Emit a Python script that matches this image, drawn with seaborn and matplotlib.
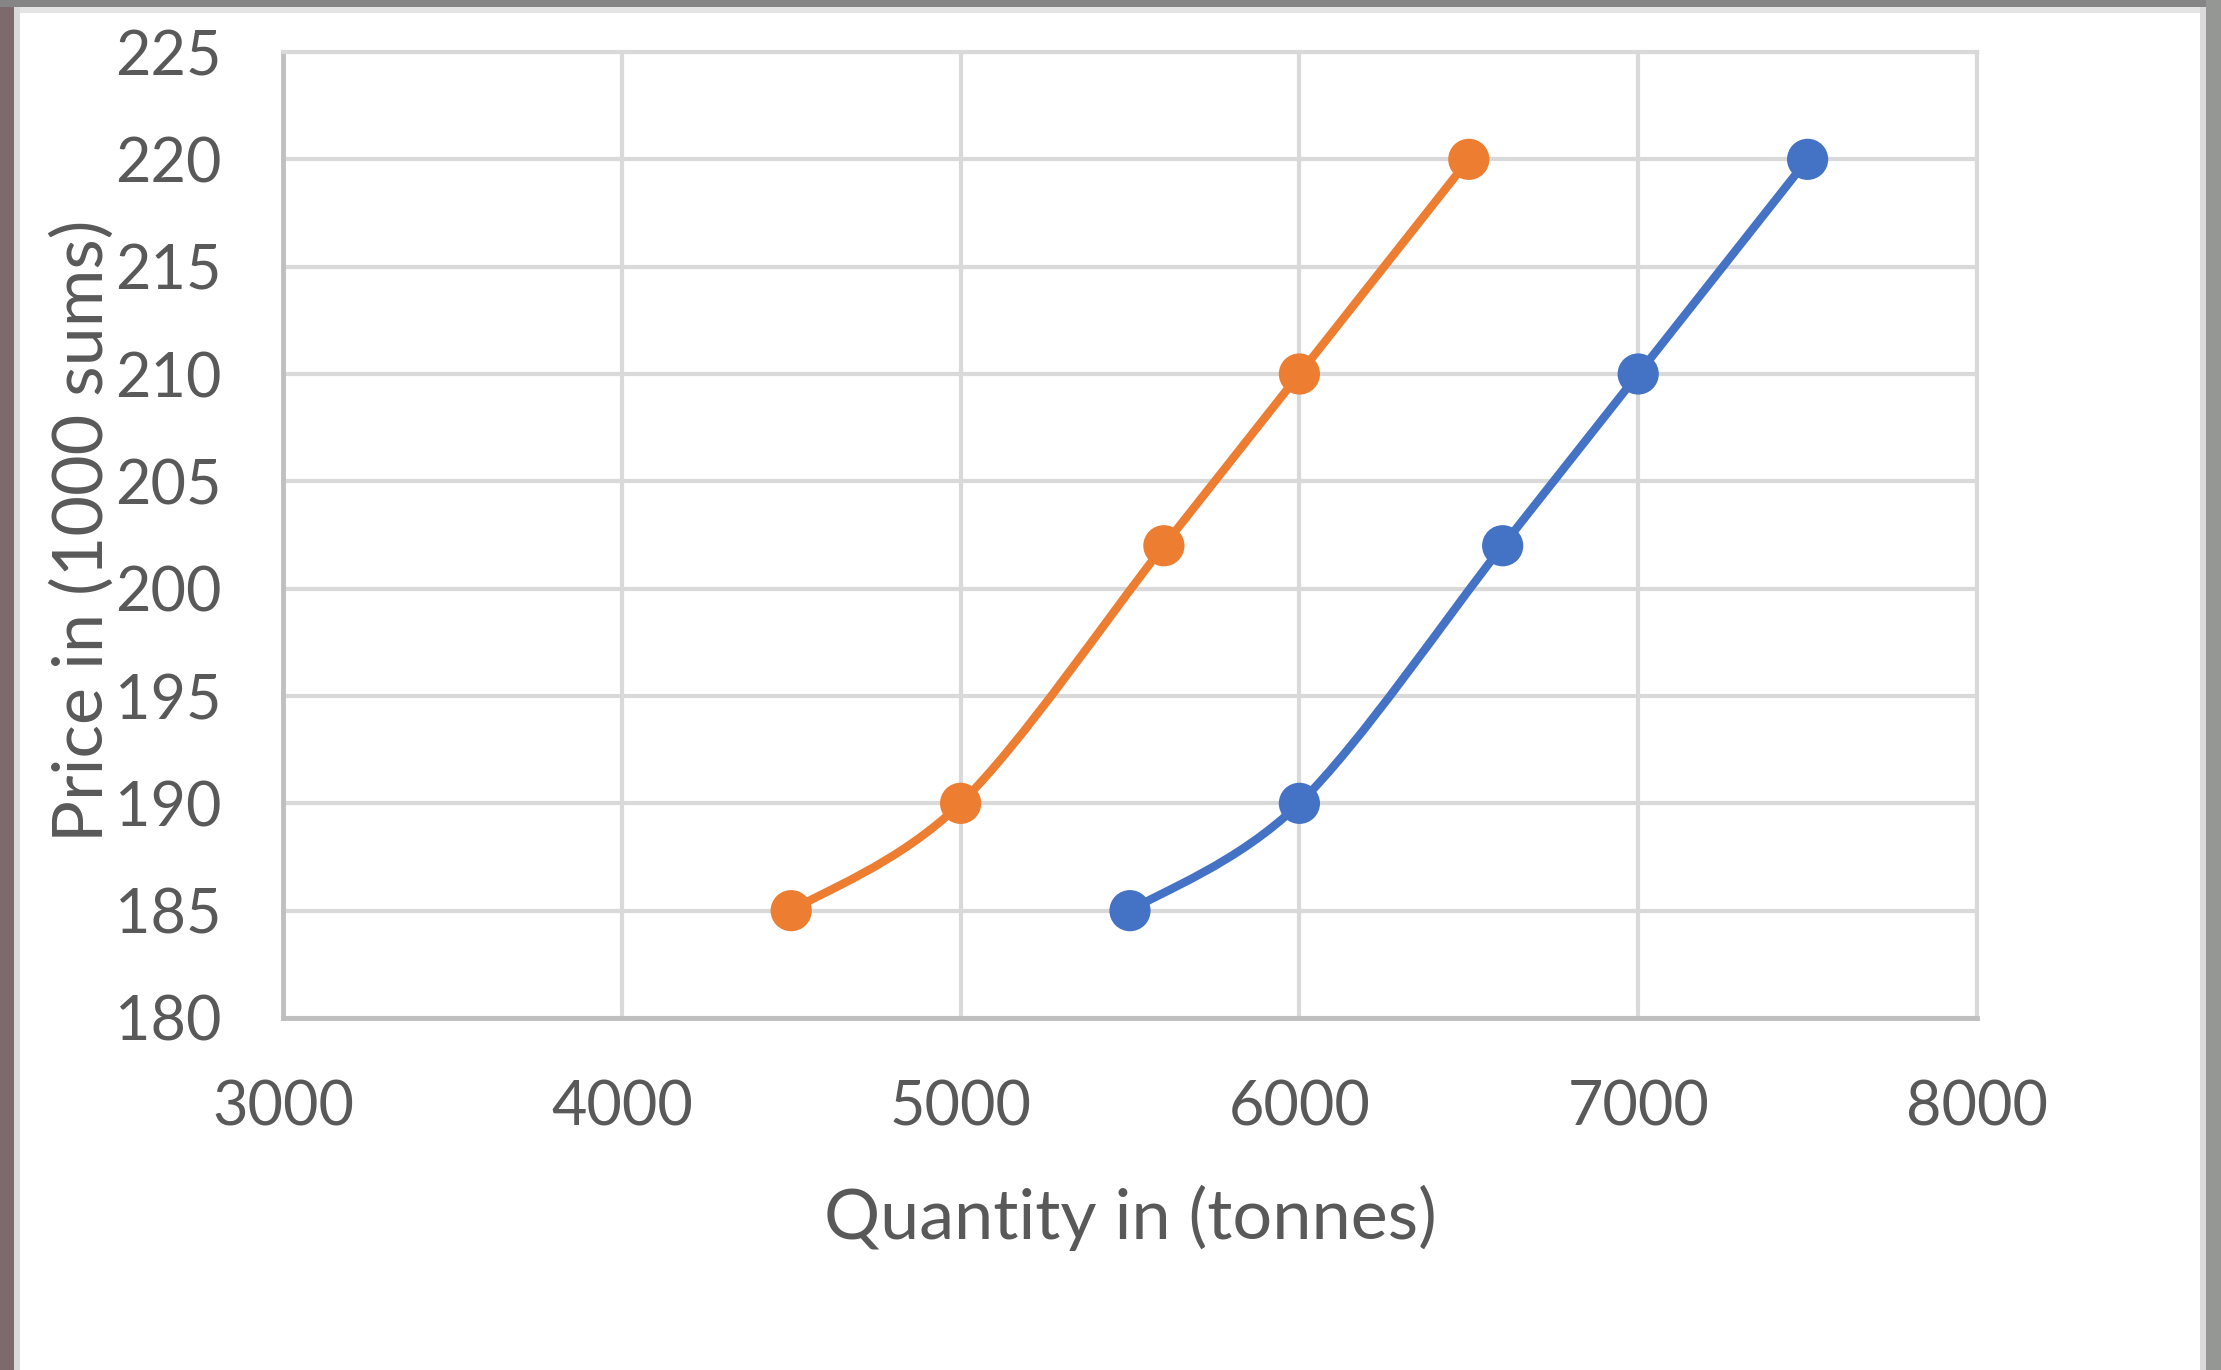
import numpy as np
import pandas as pd
import matplotlib
matplotlib.use("Agg")
import matplotlib.pyplot as plt
from matplotlib.path import Path
from matplotlib.patches import PathPatch, Rectangle
import seaborn as sns

# ---- data ----
series_names = ["Supply 2", "Supply 1"]
orange_qty = [4500, 5000, 5600, 6000, 6500]
orange_price = [185, 190, 202, 210, 220]
blue_qty = [5500, 6000, 6600, 7000, 7500]
blue_price = [185, 190, 202, 210, 220]
x_ticks = [3000, 4000, 5000, 6000, 7000, 8000]
y_ticks = [180, 185, 190, 195, 200, 205, 210, 215, 220, 225]
x_label = "Quantity in (tonnes)"
y_label = "Price in (1000 sums)"

colors = {"Supply 2": "#ED7D31", "Supply 1": "#4472C4"}

df = pd.DataFrame({
    "qty": orange_qty + blue_qty,
    "price": orange_price + blue_price,
    "series": [series_names[0]] * len(orange_qty) + [series_names[1]] * len(blue_qty),
})

sns.set_theme(style="white")
plt.rcParams["font.family"] = ["Lato", "DejaVu Sans"]

fig = plt.figure(figsize=(22.21, 13.70), dpi=100)
fig.patch.set_facecolor("white")
ax = fig.add_axes([283 / 2221, 1 - 1018 / 1370, (1977 - 283) / 2221, (1018 - 52) / 1370])


def smooth_path(xs, ys):
    # Excel-style smoothed line: cubic Bezier through the data points
    pts = np.column_stack([xs, ys]).astype(float)
    n = len(pts)
    verts = [pts[0]]
    codes = [Path.MOVETO]
    for i in range(n - 1):
        p0 = pts[i - 1] if i > 0 else pts[i]
        p1 = pts[i]
        p2 = pts[i + 1]
        p3 = pts[i + 2] if i + 2 < n else pts[i + 1]
        c1 = p1 + (p2 - p0) / 6.0
        c2 = p2 - (p3 - p1) / 6.0
        verts += [c1, c2, p2]
        codes += [Path.CURVE4] * 3
    return Path(verts, codes)


for name, g in df.groupby("series", sort=False):
    patch = PathPatch(smooth_path(g["qty"].values, g["price"].values),
                      transform=ax.transData, fill=False,
                      edgecolor=colors[name], linewidth=6.0,
                      capstyle="round", joinstyle="round", zorder=3)
    ax.add_patch(patch)

sns.scatterplot(data=df, x="qty", y="price", hue="series", palette=colors,
                s=880, edgecolor="none", linewidth=0, legend=False, ax=ax, zorder=4)

ax.set_xlim(3000, 8000)
ax.set_ylim(180, 225)
ax.set_xticks(x_ticks)
ax.set_yticks(y_ticks)

ax.grid(True, color="#D9D9D9", linewidth=3.0)
ax.set_axisbelow(True)
for s in ["top", "right"]:
    ax.spines[s].set_color("#D9D9D9")
    ax.spines[s].set_linewidth(3.0)
for s in ["left", "bottom"]:
    ax.spines[s].set_color("#BFBFBF")
    ax.spines[s].set_linewidth(3.5)

ax.tick_params(axis="both", length=0, labelsize=44, labelcolor="#595959")
ax.tick_params(axis="y", pad=44)
ax.tick_params(axis="x", pad=44)

ax.set_xlabel(x_label, fontsize=50.5, color="#595959")
ax.set_ylabel(y_label, fontsize=50.5, color="#595959")
ax.xaxis.set_label_coords(0.5, -200 / 966.0)
ax.xaxis.label.set_va("center")
ax.yaxis.set_label_coords((82 - 283) / 1694.0, 0.5 + (535 - 531) / 966.0)
ax.yaxis.label.set_va("center")

# window frame around the chart image
fig.add_artist(Rectangle((0, 0), 14 / 2221, 1, transform=fig.transFigure,
                         facecolor="#7E6A6D", edgecolor="none", zorder=10))
fig.add_artist(Rectangle((14 / 2221, 0), 6 / 2221, 1, transform=fig.transFigure,
                         facecolor="#D9D9D9", edgecolor="none", zorder=10))
fig.add_artist(Rectangle((0, 1 - 7 / 1370), 1, 7 / 1370, transform=fig.transFigure,
                         facecolor="#858585", edgecolor="none", zorder=10))
fig.add_artist(Rectangle((0, 1 - 13 / 1370), 1, 6 / 1370, transform=fig.transFigure,
                         facecolor="#E4E4E4", edgecolor="none", zorder=9))
fig.add_artist(Rectangle((2206 / 2221, 0), 15 / 2221, 1, transform=fig.transFigure,
                         facecolor="#959795", edgecolor="none", zorder=10))
fig.add_artist(Rectangle((2200 / 2221, 0), 6 / 2221, 1 - 7 / 1370, transform=fig.transFigure,
                         facecolor="#DADADA", edgecolor="none", zorder=10))

fig.savefig("out.png", dpi=100, facecolor="white")
